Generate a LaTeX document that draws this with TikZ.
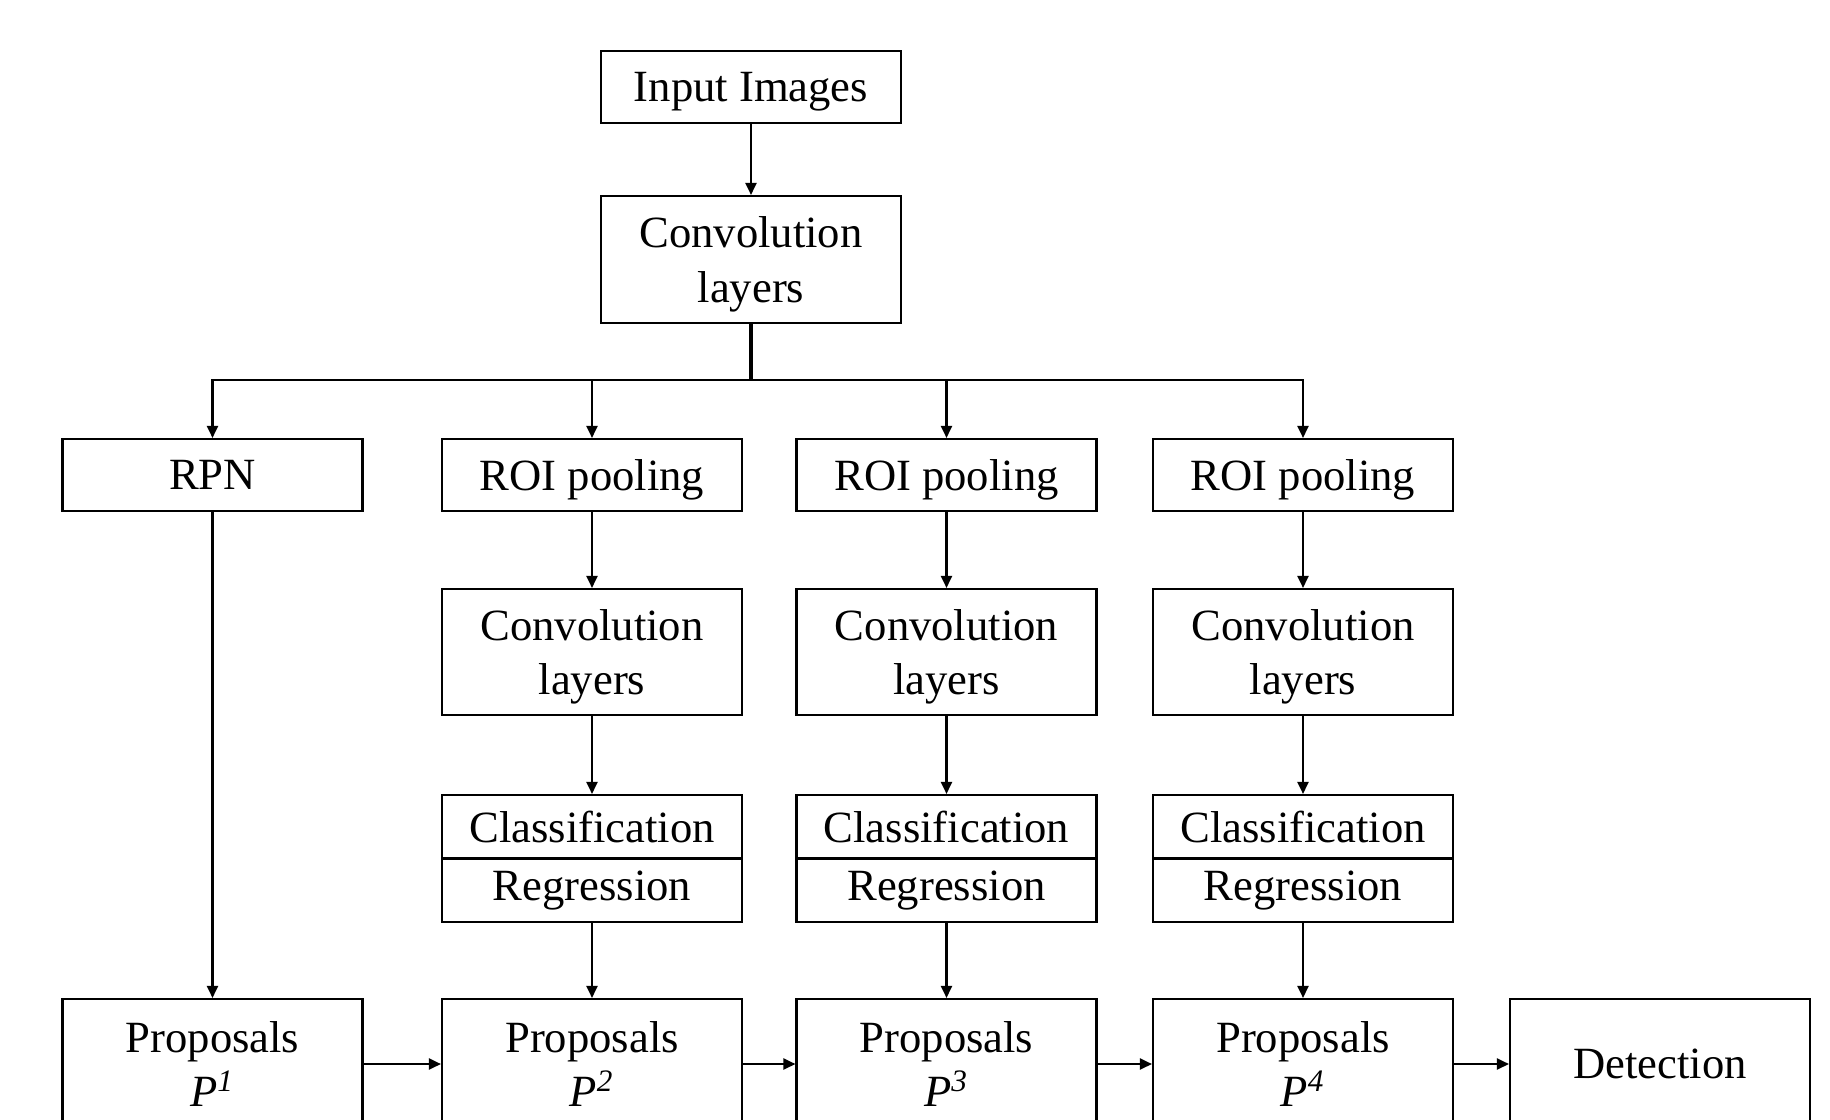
\documentclass[tikz,border=0pt]{standalone}
\usepackage{fontspec}
\setmainfont{Liberation Serif}
\usetikzlibrary{arrows.meta}
\begin{document}
\begin{tikzpicture}[
    box/.style={draw, line width=.6pt, minimum width=3cm, inner sep=0pt, text depth=0pt, align=center, font=\fontsize{12.7}{14.5}\selectfont},
    arr/.style={line width=.6pt, -{Triangle[length=1.2mm, width=1.1mm]}}]
    \useasboundingbox (0,0) rectangle (18.3,-11.2);
    \node[box, minimum height=.72cm] (input) at (7.51,-.87){Input Images};
    \node[box, minimum height=1.27cm] (conv) at (7.51,-2.595){Convolution\\[1pt]layers};
    \coordinate (split) at (7.51,-3.80);
    \node[box, minimum height=.72cm] (rpn) at (2.125,-4.75){RPN};
    \node[box, minimum height=.72cm] (roi1) at (5.92,-4.75){ROI pooling};
    \node[box, minimum height=.72cm] (roi2) at (9.465,-4.75){ROI pooling};
    \node[box, minimum height=.72cm] (roi3) at (13.03,-4.75){ROI pooling};
    \node[box, minimum height=1.26cm] (conv1) at (5.92,-6.52){Convolution\\[1pt]layers};
    \node[box, minimum height=1.26cm] (conv2) at (9.465,-6.52){Convolution\\[1pt]layers};
    \node[box, minimum height=1.26cm] (conv3) at (13.03,-6.52){Convolution\\[1pt]layers};
    \node[box, minimum height=.635cm, text depth=] (cls1) at (5.92,-8.2675){Classification};
    \node[box, minimum height=.635cm, text depth=] (reg1) at (5.92,-8.9025){Regression};
    \node[box, minimum height=.635cm, text depth=] (cls2) at (9.465,-8.2675){Classification};
    \node[box, minimum height=.635cm, text depth=] (reg2) at (9.465,-8.9025){Regression};
    \node[box, minimum height=.635cm, text depth=] (cls3) at (13.03,-8.2675){Classification};
    \node[box, minimum height=.635cm, text depth=] (reg3) at (13.03,-8.9025){Regression};
    \node[box, minimum height=1.3cm] (prop1) at (2.125,-10.64){Proposals\\[1pt]\textit{P}\textsuperscript{\textit{1}}};
    \node[box, minimum height=1.3cm] (prop2) at (5.92,-10.64){Proposals\\[1pt]\textit{P}\textsuperscript{\textit{2}}};
    \node[box, minimum height=1.3cm] (prop3) at (9.465,-10.64){Proposals\\[1pt]\textit{P}\textsuperscript{\textit{3}}};
    \node[box, minimum height=1.3cm] (prop4) at (13.03,-10.64){Proposals\\[1pt]\textit{P}\textsuperscript{\textit{4}}};
    \node[box, minimum height=1.3cm] (det) at (16.6,-10.64){Detection};
    \draw[arr] (input)--(conv);
    \draw[line width=.9pt] (conv.south)--(split);
    \draw[arr] (split)-|(rpn);
    \draw[arr] (split)-|(roi1);
    \draw[arr] (split)-|(roi2);
    \draw[arr] (split)-|(roi3);
    \draw[arr] (roi1)--(conv1);
    \draw[arr] (roi2)--(conv2);
    \draw[arr] (roi3)--(conv3);
    \draw[arr] (conv1)--(cls1);
    \draw[arr] (conv2)--(cls2);
    \draw[arr] (conv3)--(cls3);
    \draw[arr] (rpn)--(prop1);
    \draw[arr] (reg1)--(prop2);
    \draw[arr] (reg2)--(prop3);
    \draw[arr] (reg3)--(prop4);
    \draw[arr] (prop1)--(prop2);
    \draw[arr] (prop2)--(prop3);
    \draw[arr] (prop3)--(prop4);
    \draw[arr] (prop4)--(det);
  \end{tikzpicture}
\end{document}
